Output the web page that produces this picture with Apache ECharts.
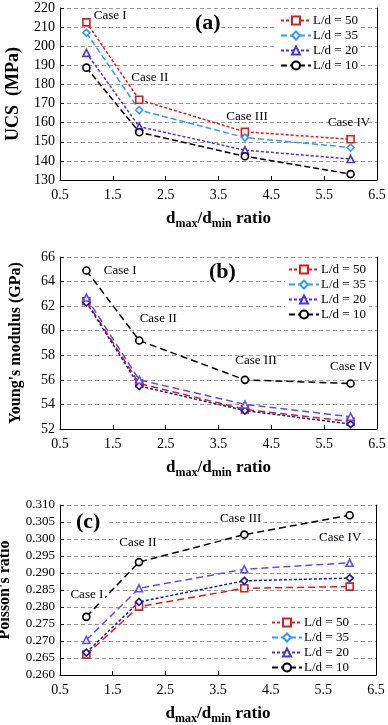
<!DOCTYPE html>
<html>
<head>
<meta charset="utf-8">
<script src="https://cdn.jsdelivr.net/npm/echarts@6/dist/echarts.min.js"></script>
<style>
  html, body { margin: 0; padding: 0; background: #fff; }
  #chart { width: 388px; height: 725px; }
</style>
</head>
<body>
<div id="chart"></div>
<script>
// d_max/d_min ratio
var ratios = [1, 2, 4, 6];
var legendNames = ['L/d = 50', 'L/d = 35', 'L/d = 20', 'L/d = 10'];

// (a) UCS (MPa)
var ucs50 = [212.5, 172.0, 155.2, 151.3];
var ucs35 = [207.0, 166.6, 152.2, 147.0];
var ucs20 = [196.5, 157.9, 145.6, 141.0];
var ucs10 = [188.8, 155.0, 142.4, 133.1];

// (b) Young's modulus (GPa)
var ym50 = [62.4, 55.7, 53.6, 52.6];
var ym35 = [62.3, 55.5, 53.5, 52.4];
var ym20 = [62.7, 56.0, 54.0, 53.0];
var ym10 = [64.9, 59.2, 56.0, 55.7];

// (c) Poisson's ratio
var pr50 = [0.2660, 0.2801, 0.2855, 0.2860];
var pr35 = [0.2666, 0.2815, 0.2877, 0.2885];
var pr20 = [0.2703, 0.2855, 0.2911, 0.2930];
var pr10 = [0.2771, 0.2932, 0.3013, 0.3070];

// case annotations [x, y] per panel
var caseNames = ['Case I', 'Case II', 'Case III', 'Case IV'];
var caseA = [[1.45, 215.8], [2.2, 183.4], [4.04, 163.0], [5.97, 159.8]];
var caseB = [[1.64, 64.9], [2.36, 60.95], [4.21, 57.56], [6.01, 57.07]];
var caseC = [[1.01, 0.2837], [1.98, 0.2989], [3.93, 0.3061], [5.82, 0.3004]];

var serif = 'Liberation Serif';
var grids = [
  { left: 60, top: 8, width: 317, height: 172, outerBoundsMode: 'none', containLabel: false },
  { left: 60, top: 257, width: 317, height: 172, outerBoundsMode: 'none', containLabel: false },
  { left: 60, top: 505, width: 316, height: 170, outerBoundsMode: 'none', containLabel: false }
];

function pairs(ys) {
  return ratios.map(function (x, i) { return [x, ys[i]]; });
}

function xAxisFor(gi) {
  return {
    type: 'value', gridIndex: gi, min: 0.5, max: 6.5, interval: 1,
    axisLine: { show: true, onZero: false, lineStyle: { color: '#000', width: 1 } },
    axisTick: { show: true, inside: true, length: 4, lineStyle: { color: '#000' } },
    axisLabel: { color: '#000', fontFamily: serif, fontSize: 14, margin: 8 },
    splitLine: { show: false },
    name: '{b|d}{s|max}{b|/d}{s|min}{b| ratio}',
    nameLocation: 'middle', nameGap: 28,
    nameTextStyle: {
      rich: {
        b: { fontFamily: serif, fontWeight: 'bold', fontSize: 17, color: '#000', lineHeight: 22 },
        s: { fontFamily: serif, fontWeight: 'bold', fontSize: 12, color: '#000', lineHeight: 22, padding: [9, 0, 0, 0] }
      }
    }
  };
}

function yAxisFor(gi, min, max, interval, name, dec, nameSize, gap, labelSize) {
  return {
    type: 'value', gridIndex: gi, min: min, max: max, interval: interval,
    axisLine: { show: true, lineStyle: { color: '#000', width: 1 } },
    axisTick: { show: true, inside: true, length: 4, lineStyle: { color: '#000' } },
    axisLabel: {
      color: '#000', fontFamily: serif, fontSize: labelSize, margin: 5,
      formatter: function (v) { return v.toFixed(dec); }
    },
    splitLine: { show: true, lineStyle: { color: '#999', type: [4, 3], width: 1 } },
    name: name, nameLocation: 'middle', nameGap: gap, nameRotate: 90,
    nameTextStyle: { fontFamily: serif, fontWeight: 'bold', fontSize: nameSize, color: '#000' }
  };
}

function rightAxis(gi, min, max) {
  return {
    type: 'value', gridIndex: gi, position: 'right', min: min, max: max,
    axisLine: { show: true, lineStyle: { color: '#000', width: 1 } },
    axisTick: { show: false }, axisLabel: { show: false }, splitLine: { show: false }
  };
}

function line(name, gi, ys, color, symbol, size, dash) {
  return {
    type: 'line', name: name, xAxisIndex: gi, yAxisIndex: gi * 2,
    data: pairs(ys), symbol: symbol, symbolSize: size, showAllSymbol: true,
    lineStyle: { color: color, width: 1.5, type: dash },
    itemStyle: { color: '#fff', borderColor: color, borderWidth: 1.6 },
    z: 3
  };
}

function cases(pts, bg) {
  return {
    symbol: 'rect', symbolSize: 1, silent: true,
    itemStyle: { color: 'rgba(0,0,0,0)' },
    label: {
      show: true, position: 'inside', formatter: '{b}',
      fontFamily: serif, fontSize: 13, color: '#000',
      backgroundColor: bg ? '#fff' : 'transparent', padding: [0, 2]
    },
    data: pts.map(function (p, i) { return { name: caseNames[i], coord: p }; })
  };
}

function legendFor(gi, left, top) {
  return {
    show: true,
    data: legendNames.map(function (n) { return { name: n }; }),
    left: left, top: top, orient: 'vertical', itemGap: 2,
    itemWidth: 30, itemHeight: 10, padding: [1, 3],
    backgroundColor: '#fff',
    textStyle: { fontFamily: serif, fontSize: 13, color: '#000', padding: [0, 0, 0, -3] },
    selectedMode: false,
    seriesIndex: [gi * 4, gi * 4 + 1, gi * 4 + 2, gi * 4 + 3]
  };
}

var red = '#e01b1b', lightBlue = '#3399ff', violet = '#4a30f0', black = '#000';
var navy = '#1a1aa8', blue = '#5a4cff';

var sA = [
  line(legendNames[0], 0, ucs50, red, 'rect', 7, [3, 2]),
  line(legendNames[1], 0, ucs35, lightBlue, 'diamond', 7, [6, 3]),
  line(legendNames[2], 0, ucs20, violet, 'triangle', 7, [3, 2]),
  line(legendNames[3], 0, ucs10, black, 'circle', 7, [6, 3])
];
sA[3].markPoint = cases(caseA, false);
var sB = [
  line(legendNames[0], 1, ym50, red, 'rect', 7, [7, 4]),
  line(legendNames[1], 1, ym35, navy, 'diamond', 7, [3, 2]),
  line(legendNames[2], 1, ym20, blue, 'triangle', 7, [7, 4]),
  line(legendNames[3], 1, ym10, black, 'circle', 7, [7, 4])
];
sB[3].markPoint = cases(caseB, false);
var sC = [
  line(legendNames[0], 2, pr50, red, 'rect', 7, [7, 4]),
  line(legendNames[1], 2, pr35, navy, 'diamond', 7, [3, 2]),
  line(legendNames[2], 2, pr20, blue, 'triangle', 7, [7, 4]),
  line(legendNames[3], 2, pr10, black, 'circle', 7, [7, 4])
];
sC[3].markPoint = cases(caseC, true);

var chart = echarts.init(document.getElementById('chart'));
chart.setOption({
  animation: false,
  backgroundColor: '#fff',
  grid: grids,
  xAxis: [xAxisFor(0), xAxisFor(1), xAxisFor(2)],
  yAxis: [
    yAxisFor(0, 130, 220, 10, 'UCS  (MPa)', 0, 18, 38, 14), rightAxis(0, 130, 220),
    yAxisFor(1, 52, 66, 2, "Young's modulus (GPa)", 0, 16, 36, 14), rightAxis(1, 52, 66),
    yAxisFor(2, 0.26, 0.31, 0.005, "Poisson's ratio", 3, 16, 47, 13), rightAxis(2, 0.26, 0.31)
  ],
  legend: [
    legendFor(0, 277, 13),
    legendFor(1, 285, 262),
    legendFor(2, 268, 615)
  ],
  graphic: [
    { type: 'text', left: 195, top: 12, z: 5,
      style: { text: '(a)', font: 'bold 22px "Liberation Serif"', fill: '#000', backgroundColor: '#fff' } },
    { type: 'text', left: 209, top: 261, z: 5,
      style: { text: '(b)', font: 'bold 22px "Liberation Serif"', fill: '#000', backgroundColor: '#fff' } },
    { type: 'text', left: 72, top: 511, z: 5,
      style: { text: '(c)', font: 'bold 22px "Liberation Serif"', fill: '#000', backgroundColor: '#fff', padding: [0, 8, 0, 4] } }
  ],
  series: sA.concat(sB, sC)
});
</script>
</body>
</html>
